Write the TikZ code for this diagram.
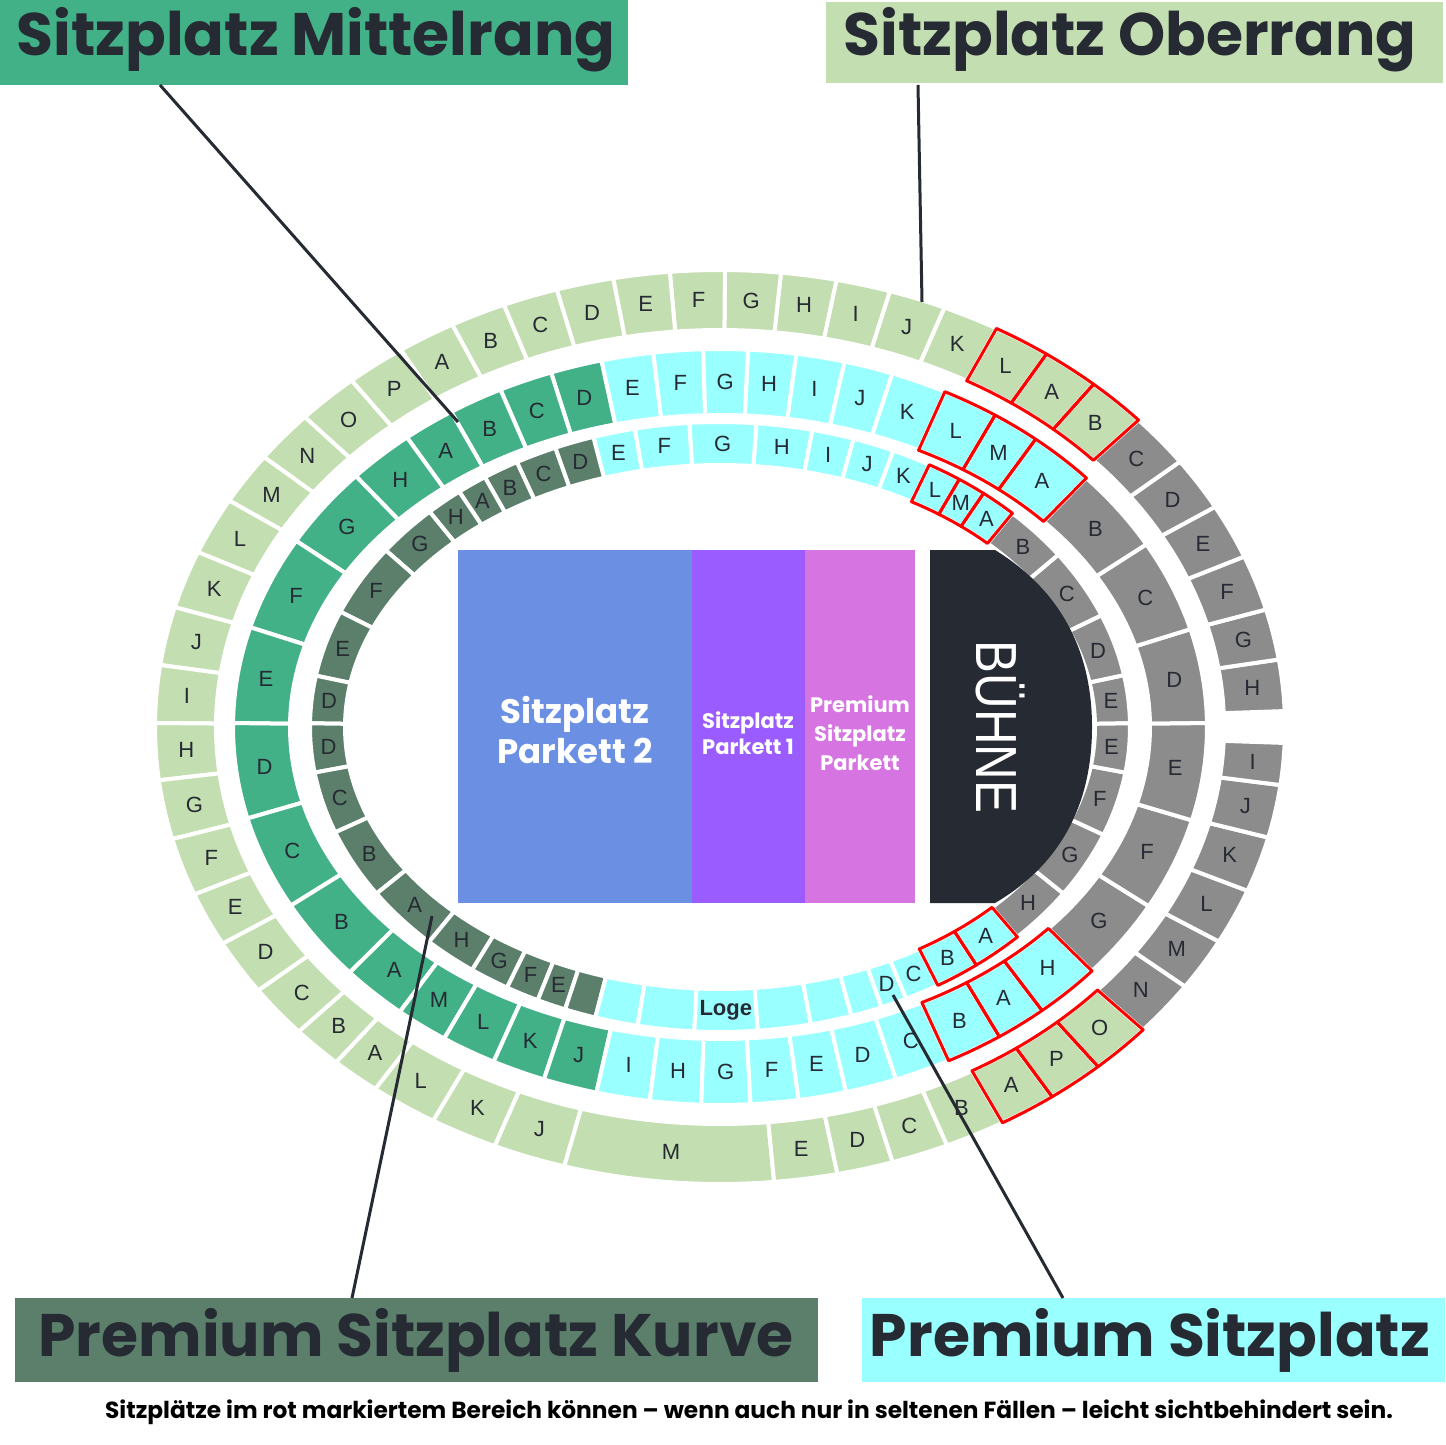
\documentclass[tikz,border=0pt]{standalone}
\usepackage{fontspec}
\setmainfont{Liberation Sans}
\newfontfamily\pop{Poppins}
\definecolor{og}{HTML}{C3DEB0}
\definecolor{gry}{HTML}{8C8C8C}
\definecolor{mgc}{HTML}{43B187}
\definecolor{dkc}{HTML}{5B7F6B}
\definecolor{cyc}{HTML}{99FFFF}
\definecolor{txt}{HTML}{262A33}
\tikzset{
 base/.style={draw=white,line width=4, line join=round},
 og/.style={base,fill=og}, gr/.style={base,fill=gry}, rg/.style={base,fill=og},
 mg/.style={base,fill=mgc}, cy/.style={base,fill=cyc}, rc/.style={base,fill=cyc},
 dk/.style={base,fill=dkc},
 redo/.style={draw=red,line width=3,line join=round},
 lab/.style={text=txt,font=\fontsize{22}{22}\selectfont},
 head/.style={text=txt,font=\pop\bfseries\fontsize{60}{60}\selectfont,inner sep=0,anchor=center},
 lead/.style={draw=txt,line width=3}
}
\newcommand\drawring[5]{%
 \foreach \a/\b/\l/\s in {#5}{
   \path[\s] (\a:#1 and #2) arc[start angle=\a,end angle=\b,x radius=#1,y radius=#2] -- (\b:#3 and #4) arc[start angle=\b,end angle=\a,x radius=#3,y radius=#4] -- cycle;
   \pgfmathsetmacro\m{(\a+\b)/2}
   \node[lab] at (\m:{(#1+#3)/2} and {(#2+#4)/2}) {\l};
 }}
\newcommand\redring[5]{%
 \foreach \a/\b in {#5}{
   \path[redo] (\a:#1 and #2) arc[start angle=\a,end angle=\b,x radius=#1,y radius=#2] -- (\b:#3 and #4) arc[start angle=\b,end angle=\a,x radius=#3,y radius=#4] -- cycle;
 }}
\begin{document}
\begin{tikzpicture}[x=1pt,y=1pt]
\useasboundingbox[fill=white] (0,0) rectangle (1445,-1445);
\begin{scope}[shift={(720,-727)}]
\drawring{565}{457}{504}{397}{2/8.5/H/gr, 8.5/14.9/G/gr, 14.9/21.9/F/gr, 21.9/28.8/E/gr, 28.8/35.5/D/gr, 35.5/42.2/C/gr, 42.2/48.6/B/rg, 48.6/54.7/A/rg, 54.7/60.7/L/rg, 60.7/66.6/K/og, 66.6/72.5/J/og, 72.5/78.1/I/og, 78.1/83.8/H/og, 83.8/89.5/G/og, 89.5/95.1/F/og, 95.1/100.9/E/og, 100.9/106.8/D/og, 106.8/112.5/C/og, 112.5/118.3/B/og, 118.3/124.4/A/og, 124.4/130.7/P/og, 130.7/137.3/O/og, 137.3/143.8/N/og, 143.8/150.3/M/og, 150.3/157.5/L/og, 157.5/164.8/K/og, 164.8/172.2/J/og, 172.2/179.5/I/og, 179.5/186.7/H/og, 186.7/194.2/G/og, 194.2/201.5/F/og, 201.5/208.3/E/og, 208.3/215.2/D/og, 215.2/221.8/C/og, 221.8/227.2/B/og, 227.2/232.4/A/og, 232.4/239.5/L/og, 239.5/246.5/K/og, 246.5/254/J/og, 254/275.5/M/og, 275.5/282/E/og, 282/287.8/D/og, 287.8/293.7/C/og, 293.7/300/B/og, 300/306/A/rg, 306/312/P/rg, 312/318.5/O/rg, 318.5/325.4/N/gr, 325.4/332/M/gr, 332/339/L/gr, 339/346/K/gr, 346/352.7/J/gr, 352.7/358/I/gr}
\redring{565}{457}{504}{397}{42.2/48.6,48.6/54.7,54.7/60.7,300/306,306/312,312/318.5}
\drawring{487}{378}{430}{312}{0.6/15/D/gr, 15/28.9/C/gr, 28.9/41.2/B/gr, 41.2/49.6/A/rc, 49.6/55.6/M/rc, 55.6/62.5/L/rc, 62.5/69.3/K/cy, 69.3/75.2/J/cy, 75.2/81/I/cy, 81/86.7/H/cy, 86.7/92/G/cy, 92/97.9/F/cy, 97.9/104.1/E/cy, 104.1/110.3/D/mg, 110.3/116.8/C/mg, 116.8/123.5/B/mg, 123.5/130/A/mg, 130/138.4/H/mg, 138.4/150.5/G/mg, 150.5/164.7/F/mg, 164.7/179.4/E/mg, 179.4/194/D/mg, 194/208.2/C/mg, 208.2/220.5/B/mg, 220.5/228.9/A/mg, 228.9/235.5/M/mg, 235.5/242.3/L/mg, 242.3/248.8/K/mg, 248.8/255.3/J/mg, 255.3/261.7/I/cy, 261.7/267.8/H/cy, 267.8/273.6/G/cy, 273.6/279.3/F/cy, 279.3/285/E/cy, 285/291.2/D/cy, 291.2/298/C/cy, 298/305/B/rc, 305/311.4/A/rc, 311.4/319.8/H/rc, 319.8/331.7/G/gr, 331.7/345.7/F/gr, 345.7/360.6/E/gr}
\redring{487}{378}{430}{312}{41.2/49.6,49.6/55.6,55.6/62.5,298/305,305/311.4,311.4/319.8}
\drawring{410}{305}{375}{262}{0.7/9.8/E/gr, 9.8/21.5/D/gr, 21.5/34.4/C/gr, 34.4/44.5/B/gr, 44.5/50/A/rc, 50/54.3/M/rc, 54.3/59.3/L/rc, 59.3/65/K/cy, 65/71/J/cy, 71/77/I/cy, 77/84.9/H/cy, 84.9/94.3/G/cy, 94.3/102/F/cy, 102/108/E/cy, 108/113.7/D/dk, 113.7/119.7/C/dk, 119.7/125/B/dk, 125/129.5/A/dk, 129.5/135.1/H/dk, 135.1/144.6/G/dk, 144.6/157.8/F/dk, 157.8/170.3/E/dk, 170.3/179.3/D/dk, 179.3/188.6/D/dk, 188.6/200.2/C/dk, 200.2/213.1/B/dk, 213.1/224.8/A/dk, 224.8/232.8/H/dk, 232.8/238.7/G/dk, 238.7/243.6/F/dk, 243.6/247.8/E/dk, 247.8/252.3//dk, 252.3/258.4//cy, 258.4/266.4//cy, 266.4/275.3/{\textbf{Loge}}/cy, 275.3/282.8//cy, 282.8/288.7//cy, 288.7/293.2//cy, 293.2/297/D/cy, 297/302.1/C/cy, 302.1/308.7/B/rc, 308.7/316.5/A/rc, 316.5/326.9/H/gr, 326.9/339.3/G/gr, 339.3/351.4/F/gr, 351.4/360.7/E/gr}
\redring{410}{305}{375}{262}{44.5/50,50/54.3,54.3/59.3,302.1/308.7,308.7/316.5}
\end{scope}
% center blocks
\fill[fill={rgb,255:red,106;green,143;blue,227}] (458,-550) rectangle (692,-903);
\fill[fill={rgb,255:red,155;green,92;blue,255}] (692,-550) rectangle (805,-903);
\fill[fill={rgb,255:red,214;green,116;blue,226}] (805,-550) rectangle (915,-903);
\node[text=white,font=\pop\bfseries\fontsize{34}{40}\selectfont,align=center] (p2) at (575,-730) {Sitzplatz\\Parkett 2};
\node[text=white,font=\pop\bfseries\fontsize{21}{26}\selectfont,align=center] (p1) at (748,-733) {Sitzplatz\\Parkett 1};
\node[text=white,font=\pop\bfseries\fontsize{21}{29}\selectfont,align=center] (pp) at (860,-733) {Premium\\Sitzplatz\\Parkett};
\fill[txt] (930,-550) -- (995,-550) .. controls (1060,-590) and (1092,-650) .. (1092,-727) .. controls (1092,-805) and (1060,-865) .. (995,-903) -- (930,-903) -- cycle;
\node[text=white,rotate=-90,font=\fontsize{58}{58}\selectfont,xscale=0.85] (bu) at (1000,-727) {BÜHNE};
% headings
\fill[mgc] (0,0) rectangle (628,-85);
\node[head] (h1) at (316,-40) {Sitzplatz Mittelrang};
\fill[og] (824,0) rectangle (1445,-85);
\node[head] (h2) at (1130,-40) {Sitzplatz Oberrang};
\fill[dkc] (15,-1298) rectangle (818,-1382);
\node[head] (h3) at (416,-1340) {Premium Sitzplatz Kurve};
\fill[cyc] (862,-1298) rectangle (1445,-1382);
\node[head] (h4) at (1150,-1340) {Premium Sitzplatz};
\node[text=black,font=\pop\bfseries\fontsize{23.3}{24}\selectfont] (note) at (749,-1412) {Sitzplätze im rot markiertem Bereich können – wenn auch nur in seltenen Fällen – leicht sichtbehindert sein.};
% leaders
\coordinate (l1a) at (160,-85); \coordinate (l1b) at (458,-422);
\coordinate (l2a) at (918,-85); \coordinate (l2b) at (922,-302);
\coordinate (l3a) at (352,-1298); \coordinate (l3b) at (432,-916);
\coordinate (l4a) at (1063,-1298); \coordinate (l4b) at (893,-995);
\draw[lead] (l1a) -- (l1b);
\draw[lead] (l2a) -- (l2b);
\draw[lead] (l3a) -- (l3b);
\draw[lead] (l4a) -- (l4b);
\end{tikzpicture}
\end{document}
